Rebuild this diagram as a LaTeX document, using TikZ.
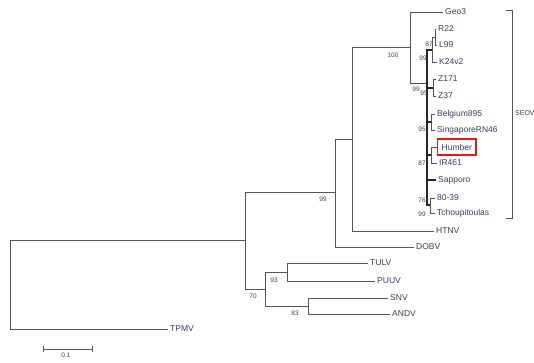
\documentclass[tikz,border=0pt]{standalone}
\usepackage{fontspec}
\setmainfont{Liberation Sans}

\definecolor{tiptext}{RGB}{52,62,100}
\definecolor{branchgrey}{RGB}{85,85,85}
\definecolor{boxred}{RGB}{230,25,25}

\begin{document}
\begin{tikzpicture}[x=1pt,y=-1pt,
    tip/.style={anchor=west, inner xsep=2pt, inner ysep=1pt, text=tiptext, font=\fontsize{8.5}{9}\selectfont},
    boxed/.style={tip, color=boxred, draw, text=tiptext, line width=1.3pt, inner xsep=4pt, minimum height=16pt},
    boot/.style={inner sep=0pt, text=black!75, font=\fontsize{6.5}{7}\selectfont},
    branch/.style={draw=branchgrey, line width=0.6pt},
    spine/.style={draw=black!85, line width=1.3pt}]
    \useasboundingbox (0,0) rectangle (534,362);

    % Draw nodes
    \coordinate (root) at (10,283);
    \coordinate (nA) at (245,240);
    \coordinate (n70) at (265,289);
    \coordinate (n93) at (287,272);
    \coordinate (n83) at (308,306);
    \coordinate (n99) at (335,192);
    \coordinate (nB) at (352,139);
    \coordinate (n100) at (410,47);
    \coordinate (nS) at (427,83);
    \coordinate (nR) at (432,50);
    \coordinate (nRL) at (435,37);
    \coordinate (nZ) at (433,88);
    \coordinate (nBS) at (431,122);
    \coordinate (nHI) at (431,155);
    \coordinate (nT) at (430,205);

    \node[tip] (geo3) at (443,12) {Geo3};
    \node[tip] (r22) at (436,29) {R22};
    \node[tip] (l99) at (437,45) {L99};
    \node[tip] (k24) at (437,62) {K24v2};
    \node[tip] (z171) at (436,79) {Z171};
    \node[tip] (z37) at (436,96) {Z37};
    \node[tip] (belg) at (435,114) {Belgium895};
    \node[tip] (sing) at (435,130) {SingaporeRN46};
    \node[boxed] (humb) at (437,147) {Humber};
    \node[tip] (ir461) at (437,163) {IR461};
    \node[tip] (sapp) at (436,180) {Sapporo};
    \node[tip] (e8039) at (435,198) {80-39};
    \node[tip] (tcho) at (435,213) {Tchoupitoulas};
    \node[tip] (htnv) at (434,231) {HTNV};
    \node[tip] (dobv) at (414,247) {DOBV};
    \node[tip] (tulv) at (368,263) {TULV};
    \node[tip] (puuv) at (375,281) {PUUV};
    \node[tip] (snv) at (388,298) {SNV};
    \node[tip] (andv) at (390,314) {ANDV};
    \node[tip] (tpmv) at (168,329) {TPMV};

    % Draw connections
    \draw[branch] (root) |- (nA);
    \draw[branch] (root) |- (tpmv.west);
    \draw[branch] (nA) |- (n99);
    \draw[branch] (nA) |- (n70);
    \draw[branch] (n70) |- (n93);
    \draw[branch] (n70) |- (n83);
    \draw[branch] (n93) |- (tulv.west);
    \draw[branch] (n93) |- (puuv.west);
    \draw[branch] (n83) |- (snv.west);
    \draw[branch] (n83) |- (andv.west);
    \draw[branch] (n99) |- (nB);
    \draw[branch] (n99) |- (dobv.west);
    \draw[branch] (nB) |- (n100);
    \draw[branch] (nB) |- (htnv.west);
    \draw[branch] (n100) |- (geo3.west);
    \draw[branch] (n100) |- (nS);
    \draw[spine] (nS) |- (nR);
    \draw[spine] (nS) |- (nZ);
    \draw[spine] (nS) |- (nBS);
    \draw[spine] (nS) |- (nHI);
    \draw[spine] (nS) |- (sapp.west);
    \draw[spine] (nS) |- (nT);
    \draw[branch] (nR) |- (nRL);
    \draw[branch] (nR) |- (k24.west);
    \draw[branch] (nRL) |- (r22.west);
    \draw[branch] (nRL) |- (l99.west);
    \draw[branch] (nZ) |- (z171.west);
    \draw[branch] (nZ) |- (z37.west);
    \draw[branch] (nBS) |- (belg.west);
    \draw[branch] (nBS) |- (sing.west);
    \draw[branch] (nHI) |- (humb.west);
    \draw[branch] (nHI) |- (ir461.west);
    \draw[branch] (nT) |- (e8039.west);
    \draw[branch] (nT) |- (tcho.west);

    % Labels
    \node[boot] (b100) at (393,55) {100};
    \node[boot] (b87a) at (429,44) {87};
    \node[boot] (b99a) at (423,58) {99};
    \node[boot] (b99b) at (416,89) {99};
    \node[boot] (b95a) at (424,93) {95};
    \node[boot] (b95b) at (422,129) {95};
    \node[boot] (b87b) at (422,163) {87};
    \node[boot] (b76) at (422,200) {76};
    \node[boot] (b99c) at (422,214) {99};
    \node[boot] (b99d) at (323,199) {99};
    \node[boot] (b93) at (274,280) {93};
    \node[boot] (b70) at (253,296) {70};
    \node[boot] (b83) at (295,313) {83};

    % SEOV bracket
    \coordinate (brTop) at (506,10);
    \coordinate (brBot) at (506,218);
    \draw[branch] (brTop) -- ++(6,0) |- (brBot);
    \node[boot, anchor=west, font=\fontsize{7}{8}\selectfont] (seov) at (515,113) {SEOV};

    % Scale bar
    \coordinate (sbL) at (43,349);
    \coordinate (sbR) at (93,349);
    \draw[branch, |-|] (sbL) -- (sbR);
    \node[boot, anchor=north, font=\fontsize{6.5}{7}\selectfont] (sblabel) at (66,353) {0.1};
\end{tikzpicture}
\end{document}
